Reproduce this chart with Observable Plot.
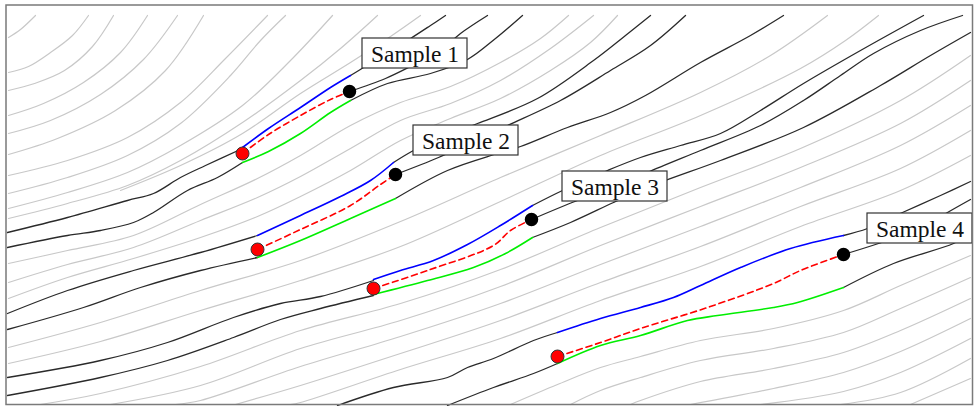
<!DOCTYPE html>
<html>
<head>
<meta charset="utf-8">
<script src="https://cdn.jsdelivr.net/npm/d3@7"></script>
<script src="https://cdn.jsdelivr.net/npm/@observablehq/plot@0.6"></script>
<style>
  html, body { margin: 0; padding: 0; background: #fff; }
  #chart svg { display: block; }
</style>
</head>
<body>
<div id="chart"></div>
<script>
// ---- data (in picture coordinates) ----
const grayLines = [
  // upper-left family
  [[8,37],[20,29],[35,15]],
  [[8,72],[28,66],[50,52],[72,35],[88,15]],
  [[8,90],[34,83],[64,70],[92,46],[113,15]],
  [[8,115],[43,103],[83,82],[120,52],[147,15]],
  [[8,133],[50,120],[100,94],[143,59],[177,15]],
  [[8,154],[57,138],[115,110],[165,70],[203,15]],
  [[8,175],[67,160],[127,137],[180,102],[225,58],[267,15]],
  [[8,193],[67,177],[127,155],[180,123],[230,75],[260,40],[285,15]],
  [[8,208],[67,192],[127,172],[180,145],[242,105],[290,60],[332,15]],
  [[8,218],[67,203],[127,185],[180,160],[242,122],[300,80],[340,48],[377,15]],
  [[120,190],[180,165],[242,133],[300,93],[350,62],[390,36],[420,15]],
  // between sample 1 and sample 2
  [[8,263],[67,250],[133,235],[200,204],[257,178],[300,155],[350,125],[400,102],[450,86],[500,62],[540,38],[568,15]],
  [[8,282],[67,264],[133,247],[200,220],[257,197],[300,176],[350,148],[400,120],[450,103],[500,80],[550,48],[593,15]],
  [[8,298],[67,277],[133,258],[200,237],[257,216],[300,196],[350,170],[400,140],[450,118],[500,98],[550,70],[590,42],[617,15]],
  // between sample 2 and sample 3
  [[8,347],[100,322],[200,290],[300,260],[400,221],[500,177],[600,135],[700,92],[770,55],[827,15]],
  [[8,363],[100,341],[200,310],[300,280],[400,246],[500,201],[600,155],[700,115],[800,68],[845,40],[878,15]],
  // between sample 3 and sample 4
  [[40,404],[100,393],[200,366],[300,330],[400,303],[500,269],[600,227],[700,187],[800,148],[900,100],[970,55]],
  [[110,404],[200,385],[300,348],[400,320],[500,286],[600,245],[700,206],[800,167],[900,123],[970,80]],
  [[175,404],[200,400],[300,366],[400,336],[500,303],[600,264],[700,226],[800,187],[900,145],[970,105]],
  [[235,404],[300,385],[400,353],[500,320],[600,282],[700,246],[800,206],[900,168],[970,130]],
  [[290,404],[300,402],[400,369],[500,338],[600,300],[700,266],[800,226],[900,190],[970,155]],
  // below sample 4
  [[510,404],[557,384],[600,367],[640,356],[700,340],[773,328],[843,310],[900,285],[970,255]],
  [[570,404],[600,390],[640,377],[700,360],[773,348],[843,332],[900,308],[970,277]],
  [[630,404],[640,400],[700,381],[773,368],[843,352],[900,330],[970,298]],
  [[690,404],[773,388],[843,372],[900,351],[970,318]],
  [[760,404],[843,391],[900,372],[970,338]],
  [[840,404],[900,392],[970,358]],
  [[910,404],[970,378]]
];

const blackLines = [
  // sample 1
  [[7,232],[67,217],[127,200],[153,193],[180,177],[205,165],[242,148]],
  [[7,247],[67,235],[100,230],[133,222],[153,212],[187,190],[217,177],[242,162]],
  [[350,75],[363,67],[390,50],[410,38],[430,25],[445,15]],
  [[349,91],[385,78],[410,66],[440,50],[460,33],[487,15]],
  [[350,100],[387,83],[430,73],[467,59],[495,38],[522,15]],
  // sample 2
  [[7,313],[67,290],[133,270],[200,252],[257,235]],
  [[7,329],[83,307],[140,287],[200,270],[257,257]],
  [[393,162],[413,150],[445,135],[477,123],[537,98],[593,60],[625,35],[650,15]],
  [[395,174],[438,157],[475,140],[507,125],[560,100],[610,70],[650,45],[685,15]],
  [[395,198],[447,170],[497,153],[520,146],[567,127],[610,112],[645,95],[700,62],[750,35],[783,15]],
  // sample 3
  [[7,377],[100,360],[167,342],[233,317],[280,303],[320,296],[373,280]],
  [[7,395],[100,377],[167,360],[233,337],[280,319],[320,308],[373,295]],
  [[532,205],[562,190],[607,170],[640,157],[680,145],[720,133],[760,110],[803,83],[860,50],[923,15]],
  [[531,219],[577,200],[620,185],[647,172],[700,150],[760,125],[803,100],[840,75],[873,53],[920,30],[962,15]],
  [[532,237],[570,222],[613,202],[640,190],[665,180],[720,160],[803,127],[880,85],[930,55],[970,32]],
  // sample 4
  [[337,405],[393,387],[447,377],[467,367],[493,358],[533,340],[557,332]],
  [[447,405],[493,387],[533,373],[557,363]],
  [[843,235],[867,228],[902,212],[940,195],[970,181]],
  [[843,254],[878,243],[920,228],[947,212],[970,199]],
  [[843,287],[893,263],[953,243],[970,234]]
];

const blueLines = [
  [[242,147],[268,128],[300,107],[330,87],[350,75]],
  [[257,235],[300,215],[340,196],[370,180],[393,162]],
  [[373,279],[400,270],[433,260],[467,244],[500,225],[532,205]],
  [[557,332],[600,318],[640,307],[673,297],[700,285],[740,267],[790,248],[843,235]]
];
const greenLines = [
  [[242,162],[268,151],[300,133],[330,112],[350,100]],
  [[257,257],[300,240],[350,218],[395,198]],
  [[373,294],[427,280],[473,267],[505,253],[532,237]],
  [[557,363],[600,345],[640,335],[687,320],[717,315],[773,307],[797,302],[843,287]]
];
const redLines = [
  [[242,153],[268,134],[300,115],[330,99],[349,91]],
  [[257,249],[300,229],[350,205],[380,184],[395,174]],
  [[373,288],[427,270],[493,245],[510,230],[531,219]],
  [[557,356],[600,342],[640,328],[707,307],[773,283],[800,270],[843,254]]
];

const startPoints = [[242,153],[257,249],[373,288],[557,356]];
const endPoints   = [[349,91],[395,174],[531,219],[843,254]];

const labelNames = ["Sample 1","Sample 2","Sample 3","Sample 4"];
const labelX = [414.5, 465.5, 614.5, 919.5];
const labelY = [53, 140, 186, 228];

// ---- build tables ----
const flat = (lines) => lines.flatMap((pts, i) => pts.map(([x, y]) => ({x, y, id: i})));
const labels = labelNames.map((t, i) => ({t, x: labelX[i], y: labelY[i]}));
const BW = 105, BH = 30;

const chart = Plot.plot({
  width: 974,
  height: 406,
  margin: 0,
  x: {domain: [0, 974], range: [0, 974], axis: null},
  y: {domain: [0, 406], range: [0, 406], axis: null},
  marks: [
    Plot.line(flat(grayLines), {x: "x", y: "y", z: "id", curve: "catmull-rom", stroke: "#c8c8c8", strokeWidth: 1.2}),
    Plot.line(flat(blackLines), {x: "x", y: "y", z: "id", curve: "catmull-rom", stroke: "#2a2a2a", strokeWidth: 1.3}),
    Plot.line(flat(blueLines), {x: "x", y: "y", z: "id", curve: "catmull-rom", stroke: "#0000ff", strokeWidth: 1.6}),
    Plot.line(flat(greenLines), {x: "x", y: "y", z: "id", curve: "catmull-rom", stroke: "#00ee00", strokeWidth: 1.6}),
    Plot.line(flat(redLines), {x: "x", y: "y", z: "id", curve: "catmull-rom", stroke: "#ff0000", strokeWidth: 1.6, strokeDasharray: "6,4"}),
    Plot.dot(startPoints, {x: d => d[0], y: d => d[1], r: 6.5, fill: "#ff0000", stroke: "#333", strokeWidth: 1}),
    Plot.dot(endPoints, {x: d => d[0], y: d => d[1], r: 6, fill: "#000", stroke: "#000"}),
    Plot.rect(labels, {x1: d => d.x - BW / 2, x2: d => d.x + BW / 2, y1: d => d.y - BH / 2, y2: d => d.y + BH / 2, fill: "#fff", stroke: "#333", strokeWidth: 1.2}),
    Plot.text(labels, {x: "x", y: "y", text: "t", fontFamily: "Liberation Serif, Times New Roman, serif", fontSize: 23.5, fill: "#111", dy: 1}),
    Plot.frame({stroke: "#7a7a7a", strokeWidth: 1.5, insetLeft: 5.5, insetTop: 4.5, insetRight: 2, insetBottom: 2})
  ]
});
document.getElementById("chart").append(chart);
</script>
</body>
</html>
